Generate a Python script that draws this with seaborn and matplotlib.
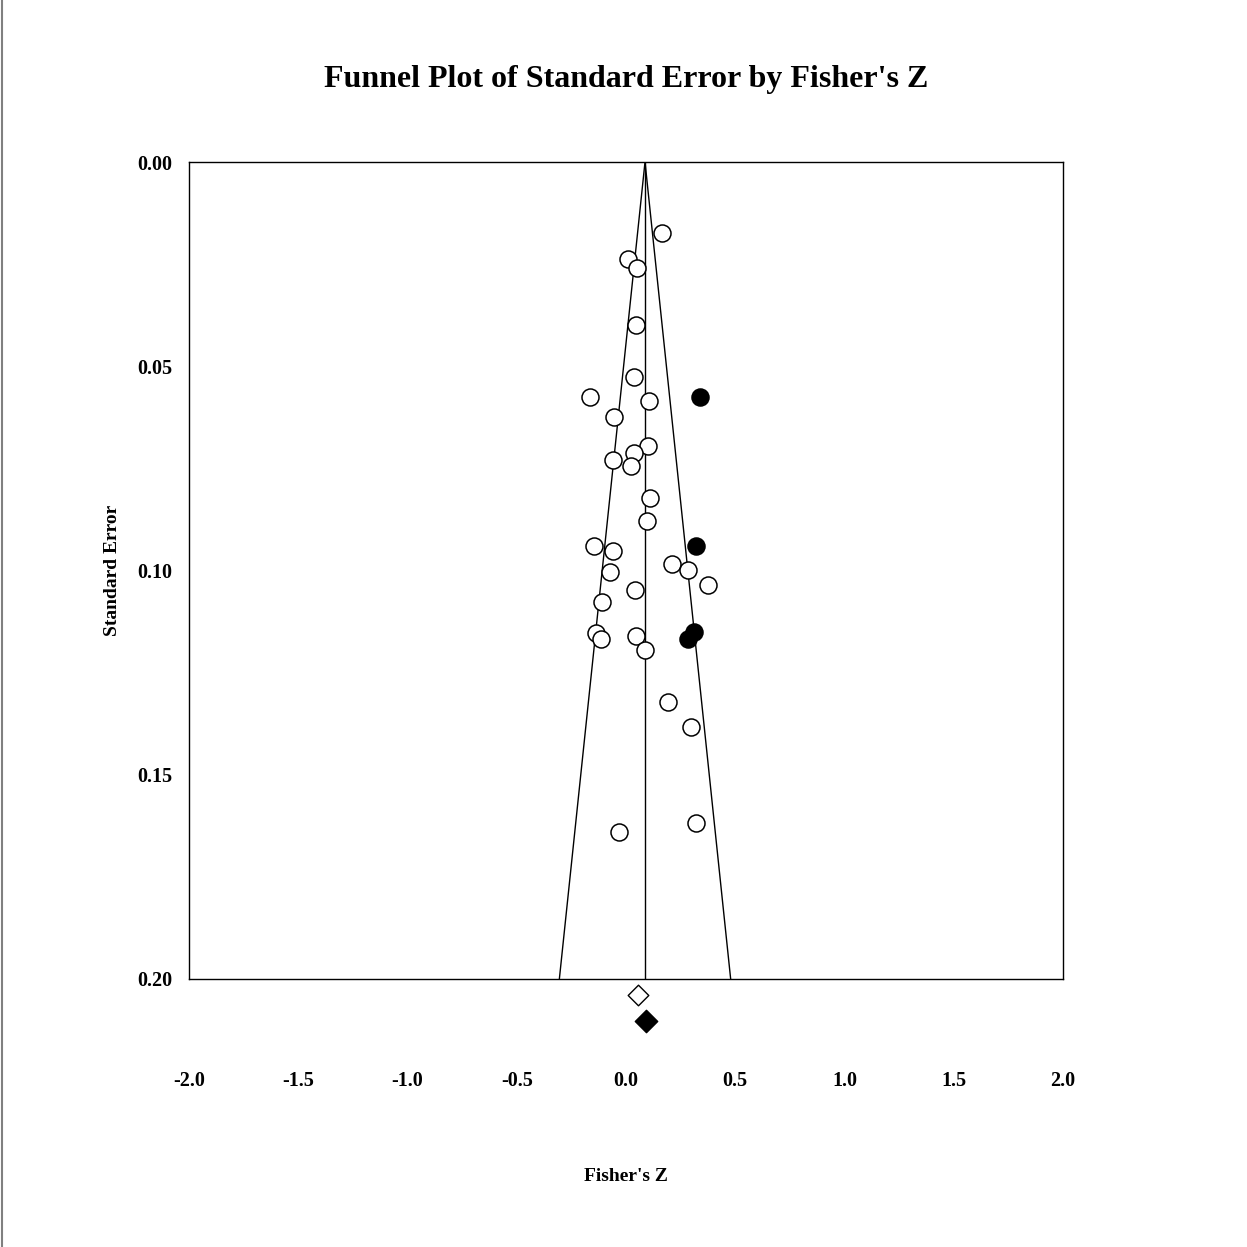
import matplotlib
matplotlib.use("Agg")
import matplotlib.pyplot as plt
import matplotlib.lines as mlines
import seaborn as sns
import pandas as pd

# observed studies (Fisher's Z, standard error)
obs_z = [0.165, 0.009, 0.050, 0.046, 0.037, -0.165, 0.105, -0.055, 0.101, 0.037,
         -0.059, 0.023, 0.110, 0.096, -0.146, -0.059, 0.211, 0.284, -0.073, 0.375,
         0.041, -0.110, -0.137, -0.114, 0.046, 0.087, 0.192, 0.297, 0.320, -0.032]
obs_se = [0.0174, 0.0237, 0.0259, 0.0399, 0.0526, 0.0575, 0.0585, 0.0624, 0.0695, 0.0712,
          0.0729, 0.0744, 0.0823, 0.0879, 0.0940, 0.0952, 0.0984, 0.0999, 0.1004, 0.1035,
          0.1048, 0.1077, 0.1153, 0.1168, 0.1160, 0.1195, 0.1322, 0.1383, 0.1618, 0.1640]

# imputed studies (trim and fill)
imp_z = [0.339, 0.320, 0.311, 0.284]
imp_se = [0.0575, 0.0940, 0.1151, 0.1168]

# summary estimates
obs_est = 0.055
imp_est = 0.092
funnel_center = 0.087
se_max = 0.20

xticks = [-2.0, -1.5, -1.0, -0.5, 0.0, 0.5, 1.0, 1.5, 2.0]
yticks = [0.00, 0.05, 0.10, 0.15, 0.20]

df_obs = pd.DataFrame({"z": obs_z, "se": obs_se})
df_imp = pd.DataFrame({"z": imp_z, "se": imp_se})

sns.set_style("white")
plt.rcParams['font.family'] = ['Liberation Serif', 'DejaVu Serif']
plt.rcParams['font.weight'] = 'bold'
plt.rcParams['text.color'] = 'black'
plt.rcParams['axes.labelcolor'] = 'black'
plt.rcParams['xtick.color'] = 'black'
plt.rcParams['ytick.color'] = 'black'

fig = plt.figure(figsize=(12.47, 12.47), dpi=100)
ax = fig.add_axes([189/1247, 1 - 979/1247, 874/1247, 817/1247])

# funnel
ax.plot([funnel_center - 1.96 * se_max, funnel_center, funnel_center + 1.96 * se_max],
        [se_max, 0, se_max], color='black', lw=1)
ax.plot([funnel_center, funnel_center], [0, se_max], color='black', lw=1)

sns.scatterplot(data=df_obs, x="z", y="se", ax=ax, marker='o', s=150,
                facecolor='white', edgecolor='black', linewidth=1.1, zorder=3)
sns.scatterplot(data=df_imp, x="z", y="se", ax=ax, marker='o', s=150,
                color='black', edgecolor='black', linewidth=1.1, zorder=4)

# summary diamonds below the axis
ax.scatter([obs_est], [0.2039], marker='D', s=110, facecolor='white',
           edgecolor='black', linewidth=1, clip_on=False, zorder=5)
ax.scatter([imp_est], [0.2103], marker='D', s=130, color='black',
           clip_on=False, zorder=5)

ax.set_xlim(-2.0, 2.0)
ax.set_ylim(0.20, 0.0)
ax.set_xticks(xticks)
ax.set_xticklabels([f"{t:.1f}" for t in xticks], fontsize=14.5, fontweight='bold')
ax.set_yticks(yticks)
ax.set_yticklabels([f"{t:.2f}" for t in yticks], fontsize=14.5, fontweight='bold')
ax.tick_params(axis='x', direction='in', length=9, width=1, pad=66, colors='black')
ax.tick_params(axis='y', length=0, pad=12)
for sp in ax.spines.values():
    sp.set_color('black')
    sp.set_linewidth(1)

ax.set_xlabel("Fisher's Z", fontsize=14, fontweight='bold', labelpad=56)
ax.set_ylabel("Standard Error", fontsize=14, fontweight='bold', labelpad=12)
fig.text(626/1247, 1 - 79/1247, "Funnel Plot of Standard Error by Fisher's Z",
         ha='center', va='center', fontsize=23, fontweight='bold')

# left page border
fig.add_artist(mlines.Line2D([1.5/1247, 1.5/1247], [0, 1], color='gray', lw=1.5))

fig.savefig("out.png", dpi=100)
